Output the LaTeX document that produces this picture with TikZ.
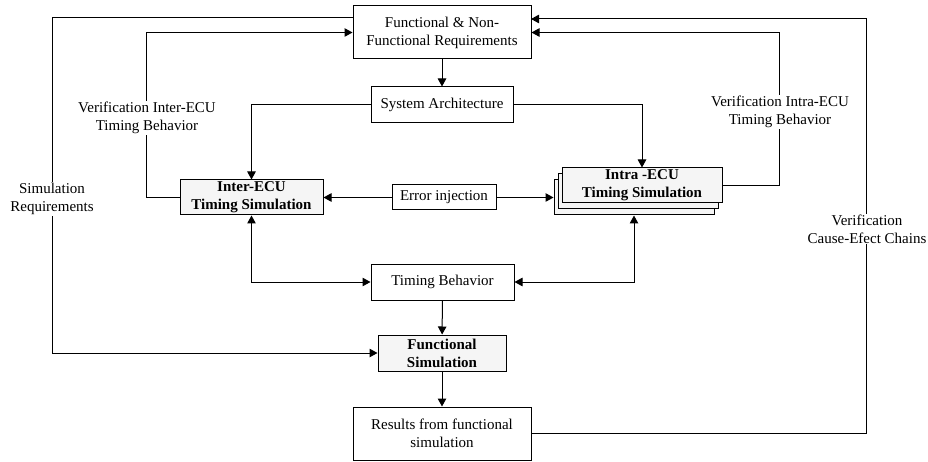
\documentclass[tikz,border=0pt]{standalone}
\usepackage{fontspec}
\setmainfont{Liberation Serif}
\usetikzlibrary{arrows.meta}
\begin{document}
\begin{tikzpicture}[x=1pt,y=-1pt,
  every node/.style={font=\fontsize{15}{18}\selectfont},
  box/.style={draw,line width=1pt,fill=white,align=center,inner sep=0pt},
  gbox/.style={box,fill=gray!8,font=\fontsize{15}{18}\selectfont\bfseries},
  lbl/.style={fill=white,align=center,inner sep=1pt},
  conn/.style={line width=1pt,-{Triangle[length=8pt,width=8.5pt]}},
  dconn/.style={line width=1pt,{Triangle[length=8pt,width=8.5pt]}-{Triangle[length=8pt,width=8.5pt]}},
  plain/.style={line width=1pt}]
\useasboundingbox (0,0) rectangle (928,462);
\node[box,minimum width=178pt,minimum height=53pt] (func) at (442,32.5) {Functional \& Non-\\Functional Requirements};
\node[box,minimum width=142pt,minimum height=36pt] (arch) at (442,105) {System Architecture};
\node[gbox,minimum width=143pt,minimum height=35pt] (inter) at (251.5,197.5) {Inter-ECU\\Timing Simulation};
\node[box,minimum width=104pt,minimum height=25pt] (err) at (444,197.5) {Error injection};
\node[gbox,minimum width=160pt,minimum height=35pt] (intra3) at (634,197.5) {};
\node[gbox,minimum width=160pt,minimum height=35pt] (intra2) at (638,191.5) {};
\node[gbox,minimum width=160pt,minimum height=35pt] (intra) at (642,185.5) {Intra -ECU\\Timing Simulation};
\node[box,minimum width=143pt,minimum height=36pt] (tb) at (442.5,282) {Timing Behavior};
\node[gbox,minimum width=128pt,minimum height=36pt] (fsim) at (442,353) {Functional\\Simulation};
\node[box,minimum width=178pt,minimum height=53pt] (res) at (442,433.5) {Results from functional\\simulation};
\coordinate (fin) at (353,18);
\coordinate (fout) at (531,19);
\draw[conn] (func) -- (arch);
\draw[conn] (arch.west) -| (inter.north);
\draw[conn] (arch.east) -| (intra.north);
\draw[conn] (err.west) -- (inter.east);
\draw[conn] (err.east) -- (intra3.west);
\draw[conn] (inter.west) -- ++(-33,0) |- (func.west);
\draw[conn] (intra.east) -- ++(57,0) |- (func.east);
\draw[conn] (fin) -- (52,18) |- (fsim.west);
\draw[conn] (res.east) -- (866,433.5) |- (fout);
\draw[conn] (tb) -- (fsim);
\draw[conn] (fsim) -- (res);
\draw[dconn] (inter.south) |- (tb.west);
\draw[dconn] (intra3.south) |- (tb.east);
\node[lbl] (l1) at (147,118) {Verification Inter-ECU\\Timing Behavior};
\node[lbl] (l2) at (780,112) {Verification Intra-ECU\\Timing Behavior};
\node[lbl] (l3) at (52,199) {Simulation\\Requirements};
\node[lbl] (l4) at (867,229) {Verification\\Cause-Efect Chains};
\end{tikzpicture}
\end{document}
